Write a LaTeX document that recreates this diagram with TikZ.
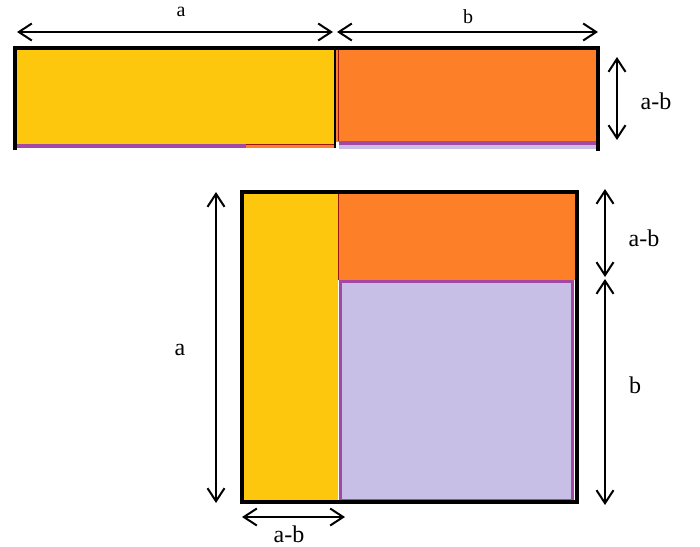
\documentclass[tikz,border=0pt]{standalone}
\usepackage{xcolor}
\usepackage{fontspec}
\setmainfont{Liberation Serif}
\usepackage{tikz}
\usetikzlibrary{arrows.meta}

\definecolor{barYellow}{RGB}{253,199,14}
\definecolor{barOrange}{RGB}{253,127,39}
\definecolor{sqLilac}{RGB}{200,191,231}
\definecolor{sqPurple}{RGB}{163,73,164}
\definecolor{edgeRed}{RGB}{150,20,10}

\tikzset{
  dimarrow/.style={line width=2pt,{Straight Barb[length=13pt,width=17pt,line width=2pt]}-{Straight Barb[length=13pt,width=17pt,line width=2pt]}},
  frame/.style={line width=4pt,line cap=rect},
  dimlabel/.style={inner sep=0.75pt,font=\fontsize{24}{26}\selectfont},
  toplabel/.style={inner sep=0.75pt,font=\fontsize{20}{22}\selectfont}
}

\begin{document}
\begin{tikzpicture}[x=1pt,y=1pt,yscale=-1,xscale=1]
\useasboundingbox (0,0) rectangle (700,546);

%Shape: Rectangle [top bar, yellow piece]
\fill[barYellow] (15,48) rectangle (335,148);
\fill[sqPurple] (15,144) rectangle (246,148);
\fill[barOrange] (246,144) rectangle (335,148);
\draw[edgeRed,line width=0.6pt] (246,144) -- (335,144);
%Shape: Rectangle [top bar, orange piece]
\fill[barOrange] (336,48) rectangle (598,142);
\fill[sqPurple] (339,141) rectangle (596,145);
\fill[sqLilac] (339,145) rectangle (596,149);
\draw[edgeRed,line width=0.6pt] (338,50) -- (338,141);
%Straight Lines [top bar frame]
\draw[frame] (15,148) -- (15,48) -- (598,48) -- (598,149);
\draw[line width=2pt] (335,48) -- (335,148);

%Shape: Rectangle [square, yellow strip]
\fill[barYellow] (242,192) rectangle (338,502);
%Shape: Rectangle [square, orange piece]
\fill[barOrange] (338,192) rectangle (577,280);
\draw[edgeRed,line width=0.8pt] (338,194) -- (338,280);
%Shape: Rectangle [square, lilac piece]
\draw[sqPurple,fill=sqLilac,line width=3pt] (340,281) rectangle (572,500);
%Straight Lines [square frame]
\draw[frame] (242,192) rectangle (577,502);

%Coordinates for the dimension arrows
\coordinate (aL) at (17,32);
\coordinate (aR) at (333,32);
\coordinate (bL) at (337,32);
\coordinate (bR) at (598,32);
\coordinate (hT) at (617,57);
\coordinate (hB) at (617,140);
\coordinate (sqT) at (216,192);
\coordinate (sqB) at (216,503);
\coordinate (abT) at (605,189);
\coordinate (abB) at (605,277);
\coordinate (bT) at (605,279);
\coordinate (bB) at (605,505);
\coordinate (wL) at (242,517);
\coordinate (wR) at (345,517);

%Straight Lines [dimension arrows]
\draw[dimarrow] (aL) -- (aR);
\draw[dimarrow] (bL) -- (bR);
\draw[dimarrow] (hT) -- (hB);
\draw[dimarrow] (sqT) -- (sqB);
\draw[dimarrow] (abT) -- (abB);
\draw[dimarrow] (bT) -- (bB);
\draw[dimarrow] (wL) -- (wR);

% Text Node
\node[toplabel] (lblA) at (181,12) {a};
% Text Node
\node[toplabel] (lblB) at (468,17) {b};
% Text Node
\node[dimlabel] (lblBarH) at (656,101) {a-b};
% Text Node
\node[dimlabel] (lblSqA) at (180,350) {a};
% Text Node
\node[dimlabel] (lblSqAB) at (644,238) {a-b};
% Text Node
\node[dimlabel] (lblSqB) at (635,385) {b};
% Text Node
\node[dimlabel] (lblSqW) at (289,534) {a-b};

\end{tikzpicture}
\end{document}
